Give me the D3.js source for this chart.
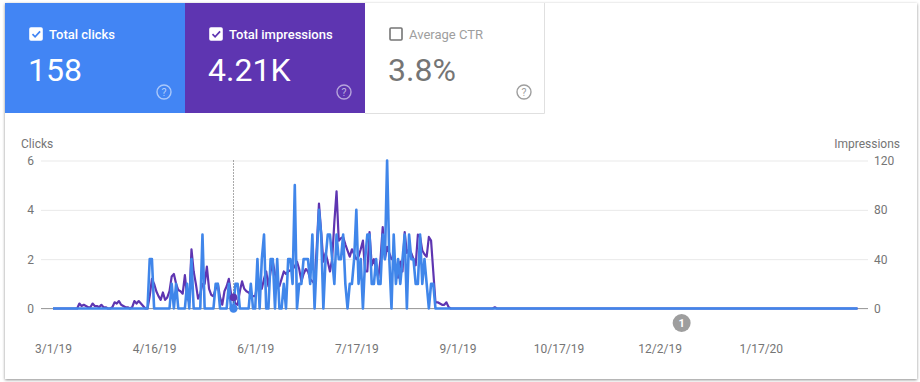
<!DOCTYPE html>
<html>
<head>
<meta charset="utf-8">
<script src="https://cdn.jsdelivr.net/npm/d3@7"></script>
<style>
  html, body { margin: 0; padding: 0; background: #fff; }
  svg { display: block; font-family: Roboto, sans-serif; }
  .tick line { stroke: #e9e9e9; }
  .tick text { fill: #757575; font-size: 12px; font-family: Roboto, sans-serif; }
</style>
</head>
<body>
<svg id="chart" width="920" height="382"></svg>
<script>
// daily values, 3/1/19 to 3/1/20
var startDate = "3/1/19";
var endDate = "3/1/20";
var clicks = [
  0,0,0,0,0,0,0,0,0,0, 0,0,0,0,0,0,0,0,0,0,
  0,0,0,0,0,0,0,0,0,0, 0,0,0,0,0,0,0,0,0,0,
  0,0,0,0,2,2,0,0,0,0, 0,0,0,0,1,0,1,0,0,0,
  0,1,0,2,0,0,0,0,3,0, 0,0,0,0,1,1,0,0,0,0,
  1,0,0,1,1,0,0,0,0,0, 1,0,0,2,0,2,3,0,0,2,
  2,0,2,0,0,1,0,2,2,1, 5,0,1,1,2,2,2,1,3,0,
  2,4,3,0,2,3,3,2,1,3, 2,2,3,1,0,1,1,2,4,1,
  2,0,2,3,3,1,1,2,1,1, 3,2,6,2,0,3,1,2,1,2,
  3,0,3,2,2,1,1,3,1,2, 1,0,1,1,0,0,0,0,0,0,
  0,0,0,0,0,0,0,0,0,0, 0,0,0,0,0,0,0,0,0,0,
  0,0,0,0,0,0,0,0,0,0, 0,0,0,0,0,0,0,0,0,0,
  0,0,0,0,0,0,0,0,0,0, 0,0,0,0,0,0,0,0,0,0,
  0,0,0,0,0,0,0,0,0,0, 0,0,0,0,0,0,0,0,0,0,
  0,0,0,0,0,0,0,0,0,0, 0,0,0,0,0,0,0,0,0,0,
  0,0,0,0,0,0,0,0,0,0, 0,0,0,0,0,0,0,0,0,0,
  0,0,0,0,0,0,0,0,0,0, 0,0,0,0,0,0,0,0,0,0,
  0,0,0,0,0,0,0,0,0,0, 0,0,0,0,0,0,0,0,0,0,
  0,0,0,0,0,0,0,0,0,0, 0,0,0,0,0,0,0,0,0,0,
  0,0,0,0,0,0,0
];
var impressions = [
  0,0,0,0,0,0,0,0,0,0, 0,0,4,2,3,2,1,1,4,2,
  2,1,3,1,1,0,0,1,5,4, 6,3,2,1,1,0,1,6,4,6,
  4,2,0,0,10,24,20,14,10,7, 13,7,9,14,26,28,20,15,14,12,
  27,10,5,48,30,20,8,12,20,20, 34,16,11,10,16,20,9,3,14,18,
  24,12,9,4,3,14,22,16,14,13, 11,10,10,20,20,16,24,30,18,30,
  38,28,20,18,24,30,28,30,31,32, 34,38,32,22,28,32,30,24,22,20,
  50,85,62,38,45,38,30,40,70,95, 55,57,58,52,47,42,48,44,40,42,
  48,55,30,30,62,35,40,32,25,40, 66,40,50,45,40,40,32,25,38,30,
  62,45,48,45,40,35,60,58,47,44, 42,58,55,30,5,5,4,3,3,5,
  1,0,0,0,0,0,0,0,0,0, 0,0,0,0,0,0,0,0,0,0,
  0,1,0,0,0,0,0,0,0,0, 0,0,0,0,0,0,0,0,0,0,
  0,0,0,0,0,0,0,0,0,0, 0,0,0,0,0,0,0,0,0,0,
  0,0,0,0,0,0,0,0,0,0, 0,0,0,0,0,0,0,0,0,0,
  0,0,0,0,0,0,0,0,0,0, 0,0,0,0,0,0,0,0,0,0,
  0,0,0,0,0,0,0,0,0,0, 0,0,0,0,0,0,0,0,0,0,
  0,0,0,0,0,0,0,0,0,0, 0,0,0,0,0,0,0,0,0,0,
  0,0,0,0,0,0,0,0,0,0, 0,0,0,0,0,0,0,0,0,0,
  0,0,0,0,0,0,0,0,0,0, 0,0,0,0,0,0,0,0,0,0,
  0,0,0,0,0,0,0
];
var dateTicks = ["3/1/19", "4/16/19", "6/1/19", "7/17/19", "9/1/19", "10/17/19", "12/2/19", "1/17/20"];
var clickTicks = [0, 2, 4, 6];
var impressionTicks = [0, 40, 80, 120];
var hoverDay = 82;
var annotationDay = 286;
var annotationLabel = "1";

var tileNames = ["Total clicks", "Total impressions", "Average CTR"];
var tileValues = ["158", "4.21K", "3.8%"];
var tileColors = ["#4285f4", "#5e35b1", "#ffffff"];
var tileChecked = [true, true, false];

var BLUE = "#4086ea";
var PURPLE = "#5e35b1";

var parseDate = d3.utcParse("%-m/%-d/%y");
var fmtDate = d3.utcFormat("%-m/%-d/%y");
var svg = d3.select("#chart");

var plot = {left: 41, right: 868, lineLeft: 53, lineRight: 857.5, top: 160.5, bottom: 308.5};

var x = d3.scaleUtc().domain([parseDate(startDate), parseDate(endDate)]).range([plot.lineLeft, plot.lineRight]);
var yClicks = d3.scaleLinear().domain([0, 6]).range([plot.bottom, plot.top]);
var yImpr = d3.scaleLinear().domain([0, 120]).range([plot.bottom, plot.top]);
function dayDate(i){ return d3.utcDay.offset(parseDate(startDate), i); }

// card
svg.append("rect")
  .attr("x", 5).attr("y", 3).attr("width", 912).attr("height", 376)
  .attr("fill", "#fff")
  .style("filter", "drop-shadow(0 1px 1.5px rgba(0,0,0,.45))");

// tiles
var tileW = 180, tileH = 110, tileX = 5, tileY = 3;
var tile = svg.selectAll("g.tile").data(tileNames).enter().append("g")
  .attr("class", "tile")
  .attr("transform", function(d, i){ return "translate(" + (tileX + i * tileW) + "," + tileY + ")"; });

tile.append("rect")
  .attr("width", tileW).attr("height", tileH)
  .attr("fill", function(d, i){ return tileColors[i]; });
// thin border around the unselected tile
svg.append("path")
  .attr("d", "M365,113.5H544.5V3")
  .attr("fill", "none").attr("stroke", "#e0e0e0");

tile.append("rect")
  .attr("x", 25).attr("y", 25).attr("width", 12).attr("height", 12).attr("rx", 1)
  .attr("fill", function(d, i){ return tileChecked[i] ? "#fff" : "none"; })
  .attr("stroke", function(d, i){ return tileChecked[i] ? "#fff" : "#757575"; })
  .attr("stroke-width", 1.6);
tile.filter(function(d, i){ return tileChecked[i]; }).append("path")
  .attr("d", "M27.5,31.2l2.6,2.6l5,-5.4")
  .attr("fill", "none")
  .attr("stroke", function(d, i){ return tileColors[i]; })
  .attr("stroke-width", 1.7);

tile.append("text")
  .attr("x", 44).attr("y", 36)
  .attr("font-size", 13)
  .attr("font-weight", function(d, i){ return tileChecked[i] ? 500 : 400; })
  .attr("fill", function(d, i){ return tileChecked[i] ? "#fff" : "#9e9e9e"; })
  .text(function(d){ return d; });
tile.append("text")
  .attr("x", 23).attr("y", 78)
  .attr("font-size", 32)
  .attr("fill", function(d, i){ return tileChecked[i] ? "#fff" : "#757575"; })
  .text(function(d, i){ return tileValues[i]; });

tile.append("circle")
  .attr("cx", 159).attr("cy", 89).attr("r", 7)
  .attr("fill", "none")
  .attr("stroke", function(d, i){ return tileChecked[i] ? "rgba(255,255,255,.55)" : "#9e9e9e"; })
  .attr("stroke-width", 1.4);
tile.append("text")
  .attr("x", 159).attr("y", 93)
  .attr("text-anchor", "middle")
  .attr("font-size", 10.5)
  .attr("fill", function(d, i){ return tileChecked[i] ? "rgba(255,255,255,.6)" : "#9e9e9e"; })
  .text("?");

// axes
var axisL = svg.append("g")
  .attr("transform", "translate(" + plot.left + ",0)")
  .call(d3.axisLeft(yClicks).tickValues(clickTicks).tickSize(-(plot.right - plot.left)).tickPadding(7).tickFormat(d3.format("d")));
axisL.select(".domain").remove();

var axisR = svg.append("g")
  .attr("transform", "translate(" + plot.right + ",0)")
  .call(d3.axisRight(yImpr).tickValues(impressionTicks).tickSize(0).tickPadding(6).tickFormat(d3.format("d")));
axisR.select(".domain").remove();

// the zero line is darker where the data line does not cover it
svg.append("line")
  .attr("x1", plot.left).attr("x2", plot.right)
  .attr("y1", yClicks(0)).attr("y2", yClicks(0))
  .attr("stroke", "#9e9e9e");

var axisB = svg.append("g")
  .attr("transform", "translate(0,341)")
  .call(d3.axisBottom(x).tickValues(dateTicks.map(parseDate)).tickSize(0).tickFormat(fmtDate));
axisB.select(".domain").remove();

svg.append("text").attr("x", 21).attr("y", 148).attr("font-size", 12).attr("fill", "#757575").text("Clicks");
svg.append("text").attr("x", 900).attr("y", 148).attr("font-size", 12).attr("fill", "#757575").attr("text-anchor", "end").text("Impressions");

// lines
var lineImpr = d3.line().x(function(d, i){ return x(dayDate(i)); }).y(function(d){ return yImpr(d); });
var lineClicks = d3.line().x(function(d, i){ return x(dayDate(i)); }).y(function(d){ return yClicks(d); });

svg.append("path").datum(impressions)
  .attr("d", lineImpr)
  .attr("fill", "none").attr("stroke", PURPLE).attr("stroke-width", 2.2).attr("stroke-linejoin", "round");
svg.append("path").datum(clicks)
  .attr("d", lineClicks)
  .attr("fill", "none").attr("stroke", BLUE).attr("stroke-width", 2.6).attr("stroke-linejoin", "round");

// hover guide and its two points
var hoverX = Math.floor(x(dayDate(hoverDay))) + 0.5;
svg.append("line")
  .attr("x1", hoverX).attr("x2", hoverX)
  .attr("y1", plot.top).attr("y2", plot.bottom)
  .attr("stroke", "#555").attr("stroke-dasharray", "1,2");
svg.append("circle").attr("cx", hoverX).attr("cy", yImpr(impressions[hoverDay])).attr("r", 3.8).attr("fill", PURPLE);
svg.append("circle").attr("cx", hoverX).attr("cy", yClicks(clicks[hoverDay])).attr("r", 4.2).attr("fill", BLUE);

// annotation marker
var ann = svg.append("g").attr("transform", "translate(" + x(dayDate(annotationDay)) + ",323)");
ann.append("circle").attr("r", 9).attr("fill", "#9e9e9e");
ann.append("text").attr("y", 4).attr("text-anchor", "middle").attr("font-size", 11).attr("font-weight", 700).attr("fill", "#fff").text(annotationLabel);
</script>
</body>
</html>
